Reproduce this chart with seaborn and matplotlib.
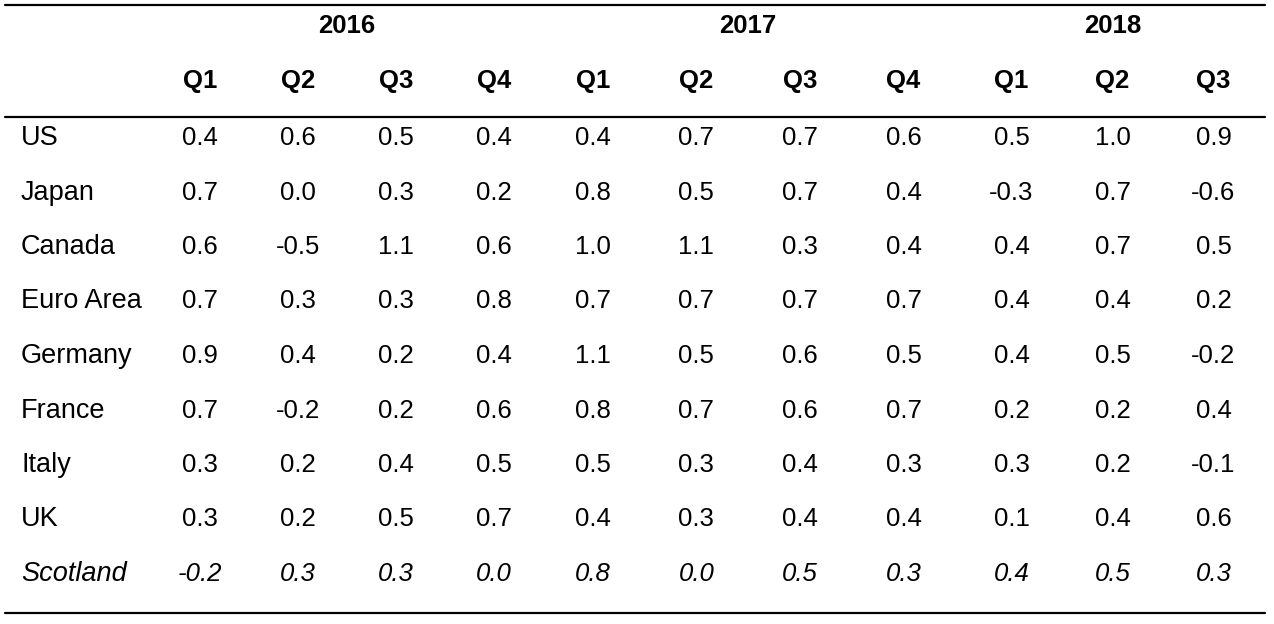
import numpy as np
import pandas as pd
import seaborn as sns
import matplotlib.pyplot as plt
from matplotlib.colors import ListedColormap
from matplotlib.lines import Line2D
from matplotlib import transforms

# Dados da tabela (crescimento trimestral do PIB, %)
years = ['2016', '2017', '2018']
quarters = ['Q1', 'Q2', 'Q3', 'Q4', 'Q1', 'Q2', 'Q3', 'Q4', 'Q1', 'Q2', 'Q3']
year_ncols = [4, 4, 3]
countries = ['US', 'Japan', 'Canada', 'Euro Area', 'Germany', 'France', 'Italy', 'UK', 'Scotland']

us = [0.4, 0.6, 0.5, 0.4, 0.4, 0.7, 0.7, 0.6, 0.5, 1.0, 0.9]
japan = [0.7, 0.0, 0.3, 0.2, 0.8, 0.5, 0.7, 0.4, -0.3, 0.7, -0.6]
canada = [0.6, -0.5, 1.1, 0.6, 1.0, 1.1, 0.3, 0.4, 0.4, 0.7, 0.5]
euro_area = [0.7, 0.3, 0.3, 0.8, 0.7, 0.7, 0.7, 0.7, 0.4, 0.4, 0.2]
germany = [0.9, 0.4, 0.2, 0.4, 1.1, 0.5, 0.6, 0.5, 0.4, 0.5, -0.2]
france = [0.7, -0.2, 0.2, 0.6, 0.8, 0.7, 0.6, 0.7, 0.2, 0.2, 0.4]
italy = [0.3, 0.2, 0.4, 0.5, 0.5, 0.3, 0.4, 0.3, 0.3, 0.2, -0.1]
uk = [0.3, 0.2, 0.5, 0.7, 0.4, 0.3, 0.4, 0.4, 0.1, 0.4, 0.6]
scotland = [-0.2, 0.3, 0.3, 0.0, 0.8, 0.0, 0.5, 0.3, 0.4, 0.5, 0.3]

df = pd.DataFrame([us, japan, canada, euro_area, germany, france, italy, uk, scotland],
                  index=countries, columns=range(len(quarters)))

sns.set_style('white')
plt.rcParams['font.family'] = ['Liberation Sans', 'DejaVu Sans']
plt.rcParams['text.color'] = 'black'
FS = 18.5

W, H = 1274, 624
# layout (pixels): borda esquerda e largura de celula de cada ano
group_left = [151, 541, 961]
group_cell = [97.9, 103.6, 101]
row_top, row_h = 110.75, 54.5

fig = plt.figure(figsize=(W / 100, H / 100), dpi=100)
nrow = len(countries)
start = 0
axes = []
for g, (yr, n) in enumerate(zip(years, year_ncols)):
    ax = fig.add_axes([group_left[g] / W, 1 - (row_top + nrow * row_h) / H,
                       n * group_cell[g] / W, nrow * row_h / H])
    sub = df.iloc[:, start:start + n]
    sns.heatmap(sub, ax=ax, annot=True, fmt='.1f', cmap=ListedColormap(['white']),
                cbar=False, annot_kws={'fontsize': FS, 'color': 'black'})
    ax.set_xticks([])
    ax.set_yticks([])
    for s in ax.spines.values():
        s.set_visible(False)
    # linha da Escocia em italico
    for t in ax.texts[-n:]:
        t.set_style('italic')
    # cabecalho: trimestres e ano
    for j in range(n):
        ax.text(j + 0.5, -0.55, quarters[start + j], ha='center', va='center',
                fontsize=FS, fontweight='bold', clip_on=False)
    ax.text(n / 2, -1.56, yr, ha='center', va='center', fontsize=FS,
            fontweight='bold', clip_on=False)
    axes.append(ax)
    start += n

# rotulos das linhas
ax0 = axes[0]
lab_tr = transforms.blended_transform_factory(fig.transFigure, ax0.transData)
for i, c in enumerate(countries):
    ax0.text(21 / W, i + 0.5, c, transform=lab_tr, ha='left', va='center',
             fontsize=19.5, style='italic' if c == 'Scotland' else 'normal', clip_on=False)

# linhas horizontais da tabela
for yp in [5, 117, 613]:
    fig.add_artist(Line2D([5 / W, 1265 / W], [1 - yp / H, 1 - yp / H],
                          color='black', linewidth=1.6))

fig.savefig('out.png', dpi=100, facecolor='white')
